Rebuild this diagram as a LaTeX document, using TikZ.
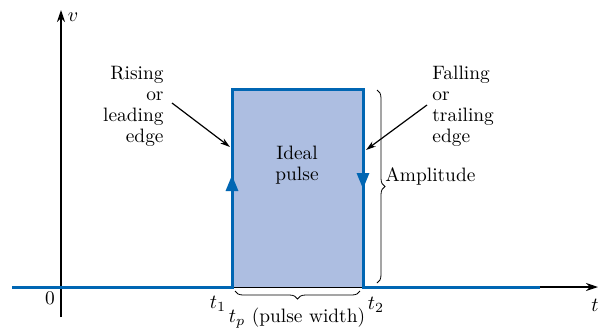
\documentclass[tikz,border=0pt]{standalone}
\usetikzlibrary{arrows.meta,positioning,calc,decorations.pathreplacing}
\definecolor{pulseblue}{RGB}{0,102,179}
\definecolor{pulsefill}{RGB}{173,190,225}
\tikzset{x=0.5pt, y=-0.5pt, % One unit is one pixel of the reference
        every node/.style={ % Text of all labels
            font=\fontsize{9.7}{10.5}\selectfont,
            inner sep=1pt},
        axis/.style={ % The v and t axes
            draw, line width=0.6pt,
            -{Stealth[length=6pt,width=4pt]}},
        wave/.style={ % The blue pulse line
            draw=pulseblue, line width=1.5pt},
        pointer/.style={ % Arrows from the labels to the edges
            draw, semithick,
            -{Stealth[length=5pt,width=3pt]}},
        edgetip/.style={ % Direction marks on the edges
            draw=pulseblue, line width=1.5pt,
            -{Triangle[length=8pt,width=6pt]}},
        bracket/.style={ % Curly braces
            draw, thin,
            decorate, decoration={brace, amplitude=4pt}}
        }
\begin{document}
\begin{tikzpicture}
    \useasboundingbox (0,0) rectangle (600,333);

    % axes
    \coordinate (o) at (61,287);
    \coordinate (vtop) at (61,10);
    \coordinate (vbot) at (61,317);
    \coordinate (tend) at (598,287);
    \draw[axis] (vbot) -- (vtop);
    \draw[axis] (12,287) -- (tend);

    % pulse corners
    \coordinate (t1) at (232,287);
    \coordinate (t2) at (363,287);
    \coordinate (top1) at (232,89);
    \coordinate (top2) at (363,89);
    \coordinate (tail) at (540,287);
    \coordinate (start) at (12,287);

    \fill[pulsefill] (t1) rectangle (top2);
    \draw[wave] (start) -- (t1) -- (top1) -- (top2) -- (t2) -- (tail);
    \draw[edgetip] (232,192) -- (232,175);
    \draw[edgetip] (363,172) -- (363,189);

    % axis labels
    \node (vlab) at (73,17) {$v$};
    \node (tlab) at (595,305) {$t$};
    \node (zero) at (50,298) {0};
    \node (t1lab) at (218,304) {$t_1$};
    \node (t2lab) at (376,305) {$t_2$};

    % inside the pulse
    \node[align=center] (ideal) at (297,165) {Ideal\\pulse};

    % edge labels
    \node[align=right, anchor=east] (rising) at (166,106) {Rising\\or\\leading\\edge};
    \node[align=left, anchor=west] (falling) at (430,106) {Falling\\or\\trailing\\edge};
    \coordinate (risetail) at (172,103);
    \coordinate (lead) at (230,147);
    \coordinate (falltail) at (427,105);
    \coordinate (trail) at (366,150);
    \draw[pointer] (risetail) -- (lead);
    \draw[pointer] (falltail) -- (trail);

    % braces
    \coordinate (amptop) at (377,90);
    \coordinate (ampbot) at (377,283);
    \draw[bracket] (amptop) -- (ampbot);
    \node[anchor=west] (amp) at (383,176) {Amplitude};

    \coordinate (wleft) at (235,291);
    \coordinate (wright) at (360,291);
    \draw[bracket] (wright) -- (wleft);
    \node (width) at (297,318) {$t_p$ (pulse width)};
\end{tikzpicture}
\end{document}
